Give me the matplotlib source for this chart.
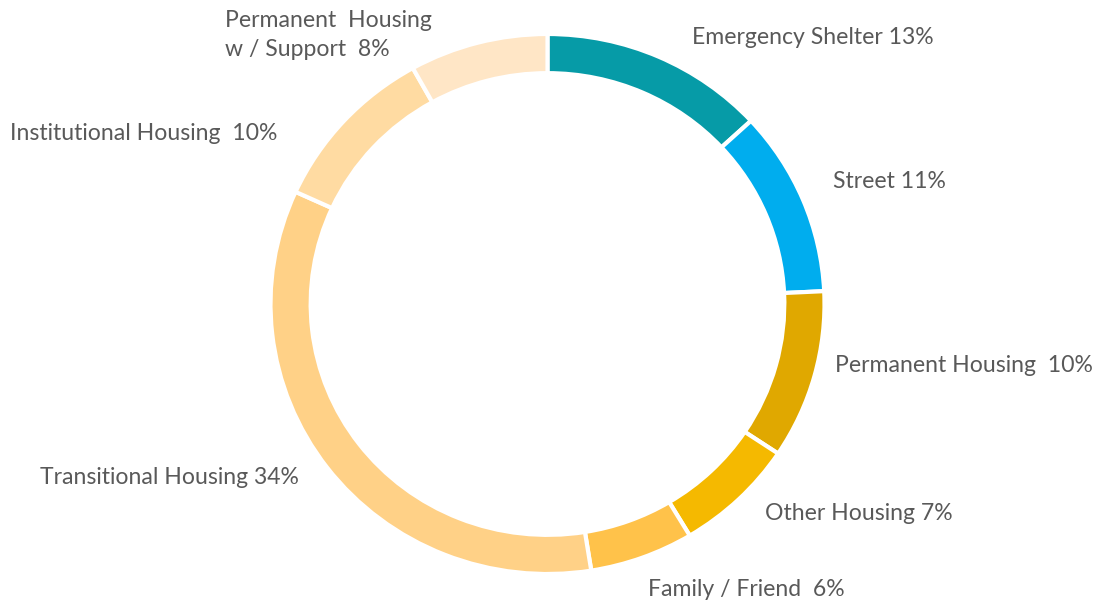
"""Donut chart: prior living situation."""

import matplotlib
matplotlib.use("Agg")
import matplotlib.pyplot as plt

categories = [
    "Emergency Shelter",
    "Street",
    "Permanent Housing",
    "Other Housing",
    "Family / Friend",
    "Transitional Housing",
    "Institutional Housing",
    "Permanent Housing\nw / Support",
]
shares = [13, 11, 10, 7, 6, 34, 10, 8]
colors = [
    "#069BA7", "#00ADEE", "#E0A800", "#F5B900",
    "#FFC24A", "#FFD187", "#FFDBA2", "#FFE6C6",
]
label_text = [
    "Emergency Shelter 13%",
    "Street 11%",
    "Permanent Housing  10%",
    "Other Housing 7%",
    "Family / Friend  6%",
    "Transitional Housing 34%",
    "Institutional Housing  10%",
    "Permanent  Housing\nw / Support  8%",
]
# label anchor (left x, centre y) in pixels from top-left
label_pos = [
    (692, 37), (833, 181), (835, 366), (765, 513),
    (648, 590), (40, 478), (10, 133), (225, 35),
]

W, H = 1100, 605
fig = plt.figure(figsize=(W / 100, H / 100), dpi=100)
cx, cy, rx, ry = 547.5, 304, 277, 270
ax = fig.add_axes([(cx - rx) / W, (H - cy - ry) / H, 2 * rx / W, 2 * ry / H])

ax.pie(
    shares,
    colors=colors,
    startangle=90,
    counterclock=False,
    radius=1.0,
    wedgeprops=dict(width=0.145, edgecolor="white", linewidth=3),
)
ax.set_aspect("auto")
ax.set_xlim(-1, 1)
ax.set_ylim(-1, 1)
ax.axis("off")

for txt, (x, y) in zip(label_text, label_pos):
    fig.text(x / W, 1 - y / H, txt, ha="left", va="center",
             fontsize=16.6, color="#595959", family="Lato", linespacing=1.45)

fig.savefig("out.png", dpi=100)
